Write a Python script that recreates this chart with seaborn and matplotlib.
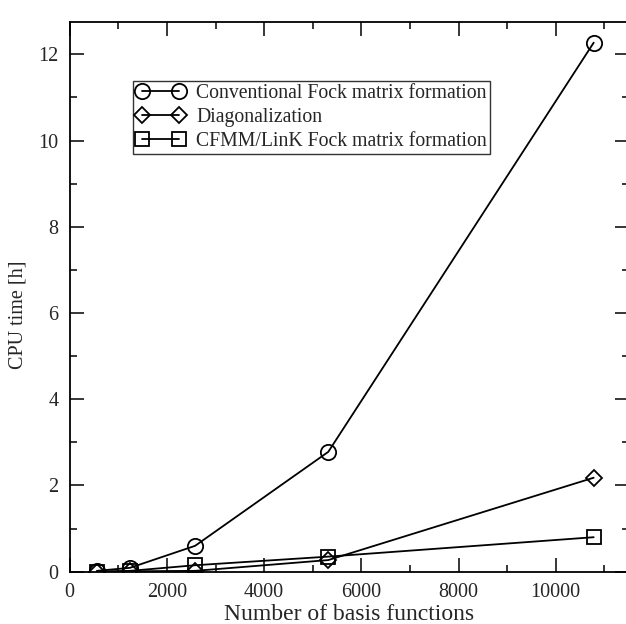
import numpy as np
import pandas as pd
import matplotlib
matplotlib.use("Agg")
import matplotlib.pyplot as plt
import seaborn as sns
from matplotlib.ticker import MultipleLocator

basis_functions = [560, 1240, 2580, 5320, 10780]
conventional = [0.02, 0.09, 0.60, 2.78, 12.27]
diagonalization = [0.0, 0.01, 0.02, 0.27, 2.18]
cfmm_link = [0.0, 0.02, 0.15, 0.35, 0.80]

labels = [
    "Conventional Fock matrix formation",
    "Diagonalization",
    "CFMM/LinK Fock matrix formation",
]
series = [conventional, diagonalization, cfmm_link]
markers = ["o", "D", "s"]
msizes = [11, 8.5, 9.5]

sns.set_style("ticks")
plt.rcParams["font.family"] = ["Liberation Serif", "DejaVu Serif"]

fig = plt.figure(figsize=(6.26, 6.24), dpi=100)
ax = fig.add_axes([0.1113, 0.0838, 0.893, 0.881])

for lab, vals, mk, ms in zip(labels, series, markers, msizes):
    df = pd.DataFrame({"x": basis_functions, "y": vals})
    sns.lineplot(data=df, x="x", y="y", ax=ax, label=lab, color="black",
                 marker=mk, markersize=ms, markerfacecolor="none",
                 markeredgecolor="black", markeredgewidth=1.3,
                 linewidth=1.3, sort=False)

ax.set_xlim(0, 11500)
ax.set_ylim(0, 12.75)
ax.xaxis.set_major_locator(MultipleLocator(2000))
ax.xaxis.set_minor_locator(MultipleLocator(1000))
ax.yaxis.set_major_locator(MultipleLocator(2))
ax.yaxis.set_minor_locator(MultipleLocator(1))
ax.tick_params(which="both", direction="in", top=True, right=True,
               labelsize=14.5, width=1.1, color="black")
ax.tick_params(which="major", length=10, pad=8)
ax.tick_params(which="minor", length=5)
for sp in ax.spines.values():
    sp.set_linewidth(1.3)
    sp.set_color("black")

ax.set_xlabel("Number of basis functions", fontsize=17)
ax.set_ylabel("CPU time [h]", fontsize=14.5)
ax.xaxis.set_label_coords(0.5, -0.058)
ax.yaxis.set_label_coords(-0.076, 0.467)

leg = ax.legend(loc="upper left", bbox_to_anchor=(0.113, 0.893),
                fontsize=14.2, frameon=True, fancybox=False,
                edgecolor="black", numpoints=2, handlelength=2.5,
                handletextpad=0.55, labelspacing=0.26, borderpad=0.15,
                borderaxespad=0)
leg.get_frame().set_linewidth(1.0)

fig.savefig("out.png", dpi=100)
